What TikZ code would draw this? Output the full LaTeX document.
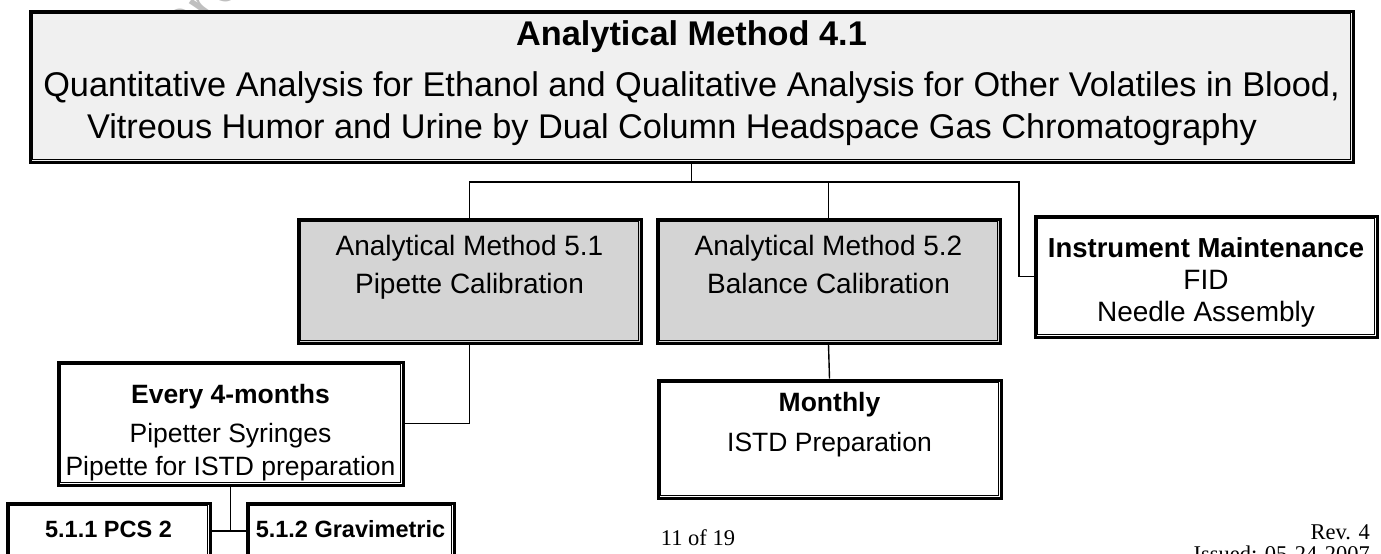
\documentclass[tikz,border=0pt]{standalone}
\usepackage{fontspec}
\setmainfont{Liberation Sans}
\newfontfamily\footserif{Liberation Serif}
\usetikzlibrary{calc}
\begin{document}
\begin{tikzpicture}[x=1pt,y=-1pt,
  box/.style={draw, line width=3pt, inner sep=0pt, fill=white},
  shaded/.style={box, fill=black!17},
  light/.style={box, fill=black!6},
  conn/.style={line width=1.4pt},
  txt/.style={anchor=base, inner sep=0pt},
  big/.style={txt, font=\fontsize{34.3}{40}\selectfont},
  bigb/.style={txt, font=\fontsize{34.3}{40}\selectfont\bfseries},
  mid/.style={txt, font=\fontsize{28}{32}\selectfont},
  midb/.style={txt, font=\fontsize{27.5}{32}\selectfont\bfseries},
  sml/.style={txt, font=\fontsize{26.5}{30}\selectfont},
  smlb/.style={txt, font=\fontsize{26.5}{30}\selectfont\bfseries},
  tiny/.style={txt, font=\fontsize{23.5}{28}\selectfont\bfseries},
  foot/.style={txt, font=\fontsize{22.5}{26}\selectfont\footserif},
]
\useasboundingbox (0,0) rectangle (1381,554);
\clip (0,0) rectangle (1381,554);
\fill[white] (0,0) rectangle (1381,554);

% faint watermark behind the chart
\node[rotate=55, anchor=base west, inner sep=0pt, text=black!25,
      font=\fontsize{64}{64}\selectfont] (wm) at (190,62) {Preview};

% boxes
\node[light,  minimum width=1323pt, minimum height=151pt] (top)     at (691.5,86.5) {};
\node[shaded, minimum width=343pt,  minimum height=124pt] (m51)     at (469.5,281)  {};
\node[shaded, minimum width=343pt,  minimum height=124pt] (m52)     at (828.5,281)  {};
\node[box,    minimum width=342pt,  minimum height=121pt] (inst)    at (1206,276.5) {};
\node[box,    minimum width=345pt,  minimum height=123pt] (every)   at (230.5,423.5) {};
\node[box,    minimum width=343pt,  minimum height=118pt] (monthly) at (829.5,439)  {};
\node[box,    minimum width=203pt,  minimum height=56pt]  (pcs)     at (108.5,531)  {};
\node[box,    minimum width=207pt,  minimum height=56pt]  (grav)    at (350.5,531)  {};

% inner frame line of every box
\foreach \n in {top,m51,m52,inst,every,monthly,pcs,grav}{
  \draw[line width=0.9pt] ([shift={(4pt,-4pt)}]\n.north west)
                rectangle ([shift={(-4pt,4pt)}]\n.south east);
}

% connectors
\coordinate (bus) at (691.5,182);
\coordinate (busend) at (1019,182);
\draw[conn] (top.south) -- (bus);
\draw[conn] (m51.north) |- (bus);
\draw[conn] (m52.north) |- (bus);
\draw[conn] (inst.west) -| (busend) -- (bus);
\draw[conn] (m51.south) |- (every.east);
\draw[conn] (m52.south) -- (monthly.north);
\draw[conn] (pcs.east) -- (grav.west);
\draw[conn] (every.south) -- (every.south |- pcs.east);

% texts
\node[bigb] (t1) at (691.5,45)  {Analytical Method 4.1};
\node[big]  (t2) at (691.5,96)  {Quantitative Analysis for Ethanol and Qualitative Analysis for Other Volatiles in Blood,};
\node[big]  (t3) at (672,138)   {Vitreous Humor and Urine by Dual Column Headspace Gas Chromatography};

\node[mid] (a1) at (469.5,255) {Analytical Method 5.1};
\node[mid] (a2) at (469.5,293) {Pipette Calibration};
\node[mid] (b1) at (828.5,255) {Analytical Method 5.2};
\node[mid] (b2) at (828.5,293) {Balance Calibration};

\node[midb] (c1) at (1206,257) {Instrument Maintenance};
\node[mid]  (c2) at (1206,289) {FID};
\node[mid]  (c3) at (1206,321) {Needle Assembly};

\node[smlb] (d1) at (230.5,403) {Every 4-months};
\node[sml]  (d2) at (230.5,442) {Pipetter Syringes};
\node[sml]  (d3) at (230.5,475) {Pipette for ISTD preparation};

\node[smlb] (e1) at (829.5,411) {Monthly};
\node[sml]  (e2) at (829.5,451) {ISTD Preparation};

\node[tiny] (f1) at (108.5,537) {5.1.1 PCS 2};
\node[tiny] (f2) at (350.5,537) {5.1.2 Gravimetric};

\node[foot] (pg)  at (698,545) {11 of 19};
\node[foot, anchor=base east] (rev) at (1370,539) {Rev. 4};
\node[foot, anchor=base east] (iss) at (1370,561) {Issued: 05-24-2007};
\end{tikzpicture}
\end{document}
